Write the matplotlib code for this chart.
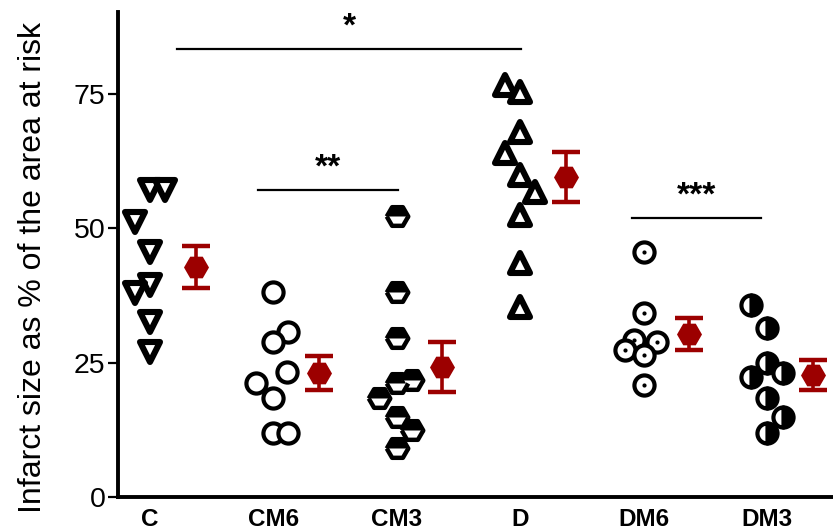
import matplotlib
matplotlib.use("Agg")
import matplotlib.pyplot as plt
from matplotlib.markers import MarkerStyle
import numpy as np

plt.rcParams['font.family'] = ['Liberation Sans', 'DejaVu Sans']

# Groups and individual infarct-size measurements (% of area at risk)
groups = ["C", "CM6", "CM3", "D", "DM6", "DM3"]

c_vals = [57.1, 57.1, 51.2, 45.6, 39.5, 38.0, 32.6, 27.0]
cm6_vals = [38.2, 30.7, 28.8, 23.3, 21.2, 18.4, 11.9, 11.9]
cm3_vals = [52.3, 38.2, 29.6, 21.8, 21.2, 18.4, 14.9, 12.5, 9.1]
d_vals = [76.7, 75.4, 67.9, 64.0, 59.9, 56.8, 52.5, 43.5, 35.4]
dm6_vals = [45.6, 34.2, 29.2, 28.8, 27.4, 26.4, 20.8]
dm3_vals = [35.7, 31.5, 24.9, 22.3, 23.1, 18.4, 14.9, 11.9]

# Group summary: mean and SEM
means = [42.8, 23.1, 24.2, 59.6, 30.3, 22.7]
sems = [3.9, 3.2, 4.6, 4.6, 3.0, 2.8]

# Significance brackets: (start group, end group, height, label)
sig_starts = [1.22, 1.875, 4.91]
sig_ends = [4.01, 3.01, 5.95]
sig_heights = [83.4, 57.1, 51.9]
sig_labels = ["*", "**", "***"]

# Horizontal spread of points within each column (data units)
c_dx = [0.0, 0.12, -0.12, 0.0, 0.0, -0.12, 0.0, 0.0]
cm6_dx = [0.0, 0.12, 0.0, 0.11, -0.14, 0.0, 0.0, 0.12]
cm3_dx = [0.0, 0.0, 0.0, 0.12, 0.0, -0.14, 0.0, 0.12, 0.0]
d_dx = [-0.12, 0.0, 0.0, -0.12, 0.0, 0.12, 0.0, 0.0, 0.0]
dm6_dx = [0.0, 0.0, -0.08, 0.11, -0.15, 0.0, 0.0]
dm3_dx = [-0.13, 0.0, 0.0, -0.13, 0.13, 0.0, 0.13, 0.0]
mean_dx = 0.37

fig = plt.figure(figsize=(8.33, 5.32), dpi=100)
ax = fig.add_axes([118 / 833, 35 / 532, 1 - 118 / 833, (497 - 12) / 532])

MS = 14.5
MEW = 3.0

def column(pos, vals, dx, marker, size=MS, mew=MEW, **kw):
    xs = pos + np.asarray(dx)
    ax.plot(xs, vals, linestyle='none', marker=marker, markersize=size,
            markeredgewidth=mew, markeredgecolor='black', zorder=3, **kw)
    return xs

# C: open down-triangles
column(1, c_vals, c_dx, MarkerStyle('v', joinstyle='round'), size=15, mew=4.4,
       markerfacecolor='white')
# CM6: open circles
column(2, cm6_vals, cm6_dx, 'o', markerfacecolor='white')
# CM3: half-filled hexagons (top black)
column(3, cm3_vals, cm3_dx, MarkerStyle('H', fillstyle='top', joinstyle='round'),
       size=15.5, mew=3.2, markerfacecolor='black', markerfacecoloralt='white')
# D: open up-triangles
column(4, d_vals, d_dx, MarkerStyle('^', joinstyle='round'), size=15, mew=4.4,
       markerfacecolor='white')
# DM6: circles with a centre dot
xs = column(5, dm6_vals, dm6_dx, 'o', markerfacecolor='white')
ax.plot(xs, dm6_vals, linestyle='none', marker='o', markersize=3,
        color='black', markeredgewidth=0, zorder=4)
# DM3: half-filled circles (right black)
column(6, dm3_vals, dm3_dx, MarkerStyle('o', fillstyle='right'),
       markerfacecolor='black', markerfacecoloralt='white')

# Mean +/- SEM
red = '#9c0000'
pos = np.arange(1, len(groups) + 1)
ax.errorbar(pos + mean_dx, means, yerr=sems, fmt='none', ecolor=red,
            elinewidth=2.6, capsize=10, capthick=3.2, zorder=5)
ax.plot(pos + mean_dx, means, linestyle='none', marker='H', color=red,
        markersize=18, markeredgewidth=0, zorder=6)

# Significance brackets
for x0, x1, h, lab in zip(sig_starts, sig_ends, sig_heights, sig_labels):
    ax.plot([x0, x1], [h, h], color='black', linewidth=1.6, zorder=2)
    ax.text((x0 + x1) / 2, h + 1.2, lab, ha='center', va='bottom',
            fontsize=24, fontweight='bold', color='black')

ax.set_xlim(0.741, 6.535)
ax.set_ylim(0, 90.3)
ax.set_yticks([0, 25, 50, 75])
ax.set_xticks(pos)
ax.set_xticklabels(groups, fontsize=17.5, fontweight='bold')
ax.tick_params(axis='x', length=0, pad=8)
ax.tick_params(axis='y', length=7, width=1.6, labelsize=20.5, pad=2)

for side in ['top', 'right']:
    ax.spines[side].set_visible(False)
for side in ['left', 'bottom']:
    ax.spines[side].set_linewidth(2.8)

ax.set_ylabel("Infarct size as % of the area at risk", fontsize=23)
ax.yaxis.set_label_coords(-0.098, 0.474)

fig.savefig("out.png", dpi=100)
